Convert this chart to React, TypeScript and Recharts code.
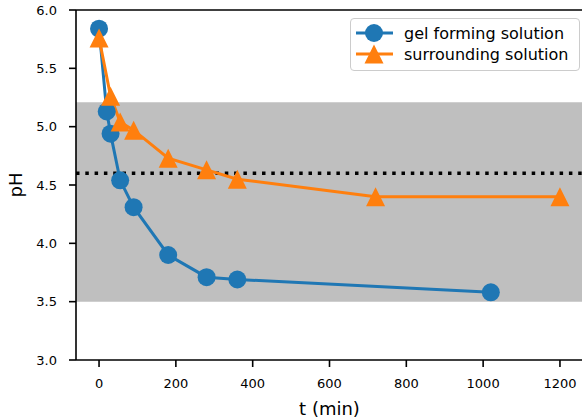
import React from "react";
import { LineChart, Line, XAxis, YAxis, ReferenceArea, ReferenceLine, Label } from "recharts";

const gelTime = [0, 20, 30, 55, 90, 180, 280, 360, 1020];
const gelPh = [5.84, 5.13, 4.94, 4.54, 4.31, 3.9, 3.71, 3.69, 3.58];
const surTime = [0, 30, 55, 90, 180, 280, 360, 720, 1200];
const surPh = [5.76, 5.26, 5.04, 4.97, 4.73, 4.63, 4.55, 4.4, 4.4];
const xTicks = [0, 200, 400, 600, 800, 1000, 1200];
const yTicks = [3.0, 3.5, 4.0, 4.5, 5.0, 5.5, 6.0];
const bandLow = 3.5;
const bandHigh = 5.21;
const threshold = 4.6;

const BLUE = "#1f77b4";
const ORANGE = "#ff7f0e";
const FONT = "DejaVu Sans, sans-serif";

const gelData = gelTime.map((t, i) => ({ t, ph: gelPh[i] }));
const surData = surTime.map((t, i) => ({ t, ph: surPh[i] }));

const Circle = (props: any) => {
  const { cx, cy, key } = props;
  if (cx == null || cy == null) return null;
  return <circle key={key} cx={cx} cy={cy} r={9} fill={BLUE} />;
};

const Triangle = (props: any) => {
  const { cx, cy, key } = props;
  if (cx == null || cy == null) return null;
  const s = 9.5;
  return <polygon key={key} points={`${cx},${cy - s} ${cx - s},${cy + s} ${cx + s},${cy + s}`} fill={ORANGE} />;
};

function LegendBox() {
  const rows = [
    { name: "gel forming solution", color: BLUE, shape: "circle" },
    { name: "surrounding solution", color: ORANGE, shape: "triangle" },
  ];
  return (
    <div
      style={{
        position: "absolute",
        left: 350,
        top: 18,
        width: 228,
        height: 51,
        border: "1px solid #cccccc",
        borderRadius: 4,
        background: "rgba(255,255,255,0.8)",
        fontFamily: FONT,
        fontSize: 16,
      }}
    >
      <svg width={228} height={51}>
        {rows.map((r, i) => {
          const y = 14 + i * 21;
          return (
            <g key={r.name}>
              <line x1={5} x2={42} y1={y} y2={y} stroke={r.color} strokeWidth={3} />
              {r.shape === "circle" ? (
                <circle cx={23} cy={y} r={9} fill={r.color} />
              ) : (
                <polygon points={`23,${y - 9.5} 13.5,${y + 9.5} 32.5,${y + 9.5}`} fill={r.color} />
              )}
              <text x={53} y={y + 6} fontFamily={FONT} fontSize={16} fill="#000">
                {r.name}
              </text>
            </g>
          );
        })}
      </svg>
    </div>
  );
}

export default function App() {
  return (
    <div style={{ position: "absolute", left: 0, top: 0, width: 582, height: 419, overflow: "hidden", background: "#fff" }}>
      <LineChart width={600} height={419} margin={{ top: 10, right: 17, bottom: 0, left: 0 }}>
        <XAxis
          dataKey="t"
          type="number"
          domain={[-60, 1260]}
          ticks={xTicks}
          allowDuplicatedCategory={false}
          height={59}
          tickSize={7}
          tickMargin={12}
          axisLine={{ stroke: "#000", strokeWidth: 1.6 }}
          tickLine={{ stroke: "#000", strokeWidth: 1.6 }}
          tick={{ fill: "#000", fontSize: 13, fontFamily: FONT }}
        >
          <Label
            content={(p: any) => {
              const vb = p.viewBox;
              return (
                <text x={vb.x + vb.width / 2} y={415} textAnchor="middle" fontFamily={FONT} fontSize={18} fill="#000">
                  t (min)
                </text>
              );
            }}
          />
        </XAxis>
        <YAxis
          dataKey="ph"
          type="number"
          domain={[3, 6]}
          ticks={yTicks}
          width={76}
          tickSize={7}
          tickMargin={12}
          tickFormatter={(v: number) => v.toFixed(1)}
          axisLine={{ stroke: "#000", strokeWidth: 1.6 }}
          tickLine={{ stroke: "#000", strokeWidth: 1.6 }}
          tick={{ fill: "#000", fontSize: 13, fontFamily: FONT }}
        >
          <Label
            content={(p: any) => {
              const vb = p.viewBox;
              const cy = vb.y + vb.height / 2;
              return (
                <text x={22} y={cy} transform={`rotate(-90 22 ${cy})`} textAnchor="middle" fontFamily={FONT} fontSize={18} fill="#000">
                  pH
                </text>
              );
            }}
          />
        </YAxis>
        <ReferenceArea y1={bandLow} y2={bandHigh} x1={-60} x2={1260} fill="#bfbfbf" fillOpacity={1} stroke="none" ifOverflow="visible" />
        <ReferenceLine y={threshold} stroke="#000" strokeWidth={3.5} strokeDasharray="3.5 5.8" />
        <ReferenceLine y={6} stroke="#000" strokeWidth={1.6} />
        <Line
          data={gelData}
          dataKey="ph"
          stroke={BLUE}
          strokeWidth={3}
          dot={Circle}
          activeDot={false}
          isAnimationActive={false}
        />
        <Line
          data={surData}
          dataKey="ph"
          stroke={ORANGE}
          strokeWidth={3}
          dot={Triangle}
          activeDot={false}
          isAnimationActive={false}
        />
      </LineChart>
      <LegendBox />
    </div>
  );
}
